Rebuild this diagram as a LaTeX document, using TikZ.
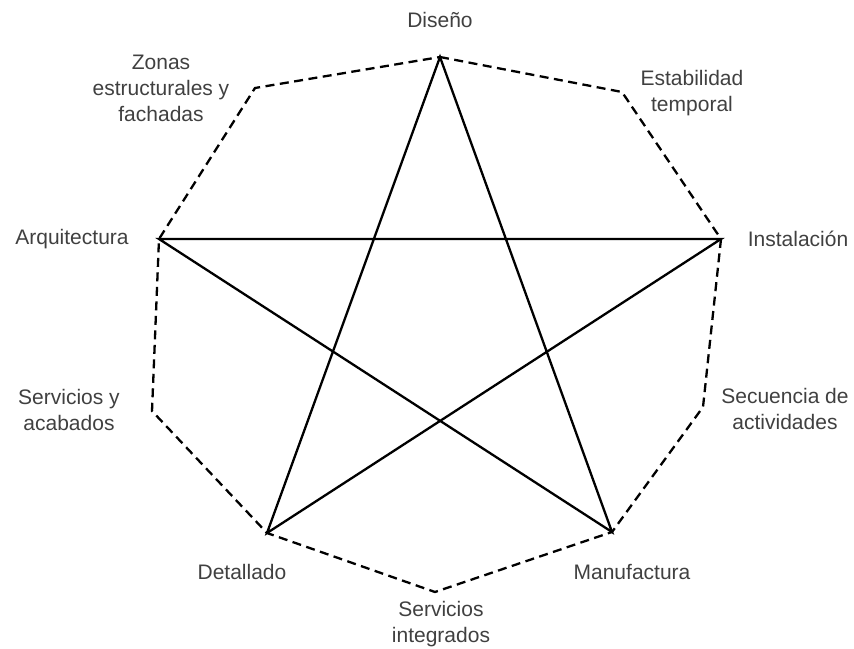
\documentclass[tikz,border=0pt]{standalone}
\usepackage{fontspec}
\setmainfont{Liberation Sans}
\begin{document}
\begin{tikzpicture}[x=1pt,y=-1pt,
  lbl/.style={text=black!75, font=\fontsize{21}{26}\selectfont, align=center, inner sep=0pt},
  ring/.style={line width=2.3pt, dash pattern=on 9pt off 5.5pt},
  starline/.style={line width=2.3pt, line join=miter}]
\useasboundingbox (0,0) rectangle (854,648);
% vertices of the outer ring
\coordinate (dis) at (440,57);
\coordinate (est) at (622,92);
\coordinate (ins) at (721,239);
\coordinate (sec) at (703,407);
\coordinate (man) at (612,532);
\coordinate (sin) at (435,592);
\coordinate (det) at (267,533);
\coordinate (sac) at (152,411);
\coordinate (arq) at (159,239);
\coordinate (zon) at (255,88);
% labels
\node[lbl] (tdis) at (440,20) {Diseño};
\node[lbl] (test) at (692,93) {Estabilidad\\temporal};
\node[lbl] (tins) at (798,239) {Instalación};
\node[lbl] (tsec) at (785,409) {Secuencia de\\actividades};
\node[lbl] (tman) at (632,572) {Manufactura};
\node[lbl] (tsin) at (441,624) {Servicios\\integrados};
\node[lbl] (tdet) at (242,572) {Detallado};
\node[lbl] (tsac) at (69,410) {Servicios y\\acabados};
\node[lbl] (tzon) at (161,88) {Zonas\\estructurales y\\fachadas};
\node[lbl] (tarq) at (72,239) {Arquitectura};
% dashed outer ring
\draw[ring] (dis) -- (est) -- (ins) -- (sec) -- (man) -- (sin) -- (det) -- (sac) -- (arq) -- (zon) -- cycle;
% five-pointed star
\draw[starline] (dis) -- (man) -- (arq) -- (ins) -- (det) -- cycle;
\end{tikzpicture}
\end{document}
